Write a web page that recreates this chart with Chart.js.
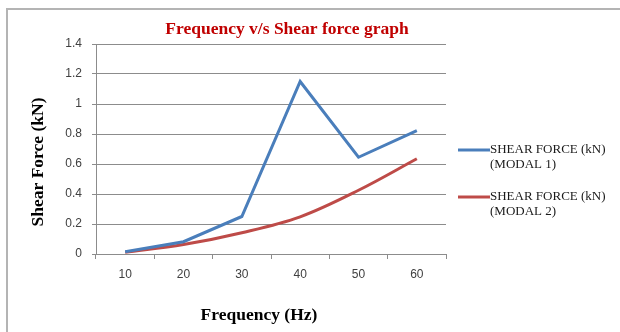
<!DOCTYPE html>
<html>
<head>
<meta charset="utf-8">
<script src="https://cdn.jsdelivr.net/npm/chart.js@4.4.0/dist/chart.umd.min.js"></script>
<style>
  html, body { margin: 0; padding: 0; background: #fff; }
  #wrap { width: 620px; height: 332px; }
</style>
</head>
<body>
<div id="wrap"><canvas id="chart" width="620" height="332"></canvas></div>
<script>
// Data
const frequencies = ['10', '20', '30', '40', '50', '60'];
const modal1 = [0.015, 0.082, 0.25, 1.15, 0.645, 0.822];
const modal2 = [0.012, 0.063, 0.142, 0.248, 0.425, 0.635];
const seriesNames = [['SHEAR FORCE (kN)', '(MODAL 1)'], ['SHEAR FORCE (kN)', '(MODAL 2)']];
const chartTitle = 'Frequency v/s Shear force graph';
const xTitle = 'Frequency (Hz)';
const yTitle = 'Shear Force (kN)';

const BLUE = '#4a7ebb';
const RED = '#be4b48';
const GRID = '#8c8c8c';

// border, titles and the legend on the right
const decor = {
  id: 'decor',
  afterDraw(chart) {
    const ctx = chart.ctx;
    ctx.save();

    ctx.strokeStyle = '#b4b4b4';
    ctx.lineWidth = 2;
    ctx.beginPath();
    ctx.moveTo(7, 332);
    ctx.lineTo(7, 9);
    ctx.lineTo(620, 9);
    ctx.stroke();

    ctx.fillStyle = '#c00000';
    ctx.font = 'bold 17.5px "Liberation Serif"';
    ctx.textAlign = 'center';
    ctx.textBaseline = 'alphabetic';
    ctx.fillText(chartTitle, 287, 34);

    ctx.fillStyle = '#000';
    ctx.fillText(xTitle, 259, 320);

    ctx.save();
    ctx.translate(43, 162);
    ctx.rotate(-Math.PI / 2);
    ctx.fillText(yTitle, 0, 0);
    ctx.restore();

    // legend
    const rows = [150, 197];
    chart.data.datasets.forEach((ds, i) => {
      const y = rows[i];
      ctx.strokeStyle = ds.borderColor;
      ctx.lineWidth = 3;
      ctx.beginPath();
      ctx.moveTo(458, y);
      ctx.lineTo(490, y);
      ctx.stroke();
      ctx.fillStyle = '#1a1a1a';
      ctx.font = '13px "Liberation Serif"';
      ctx.textAlign = 'left';
      ctx.textBaseline = 'middle';
      seriesNames[i].forEach((t, j) => ctx.fillText(t, 490, y + j * 15));
    });
    ctx.restore();
  }
};

const tickFont = { family: '"Liberation Sans"', size: 12 };

new Chart(document.getElementById('chart'), {
  type: 'line',
  data: {
    labels: frequencies,
    datasets: [
      { label: 'Modal 1', data: modal1, borderColor: BLUE, borderWidth: 3, pointRadius: 0, tension: 0 },
      { label: 'Modal 2', data: modal2, borderColor: RED, borderWidth: 3, pointRadius: 0, tension: 0.35 }
    ]
  },
  options: {
    responsive: false,
    animation: false,
    layout: { padding: { left: 0, right: 174, top: 44, bottom: 0 } },
    plugins: { legend: { display: false }, title: { display: false }, tooltip: { enabled: false } },
    scales: {
      x: {
        offset: true,
        grid: { offset: true, drawOnChartArea: false, color: GRID, tickLength: 5 },
        border: { color: GRID },
        ticks: { color: '#404040', font: tickFont, padding: 8 },
        afterFit: s => { s.height = 78; }
      },
      y: {
        min: 0,
        max: 1.4,
        grid: { color: GRID, tickLength: 4 },
        border: { color: GRID },
        ticks: {
          stepSize: 0.2, color: '#404040', font: tickFont, padding: 10,
          callback: v => String(Number(v.toFixed(1)))
        },
        afterFit: s => { s.width = 96; }
      }
    }
  },
  plugins: [decor]
});
</script>
</body>
</html>
